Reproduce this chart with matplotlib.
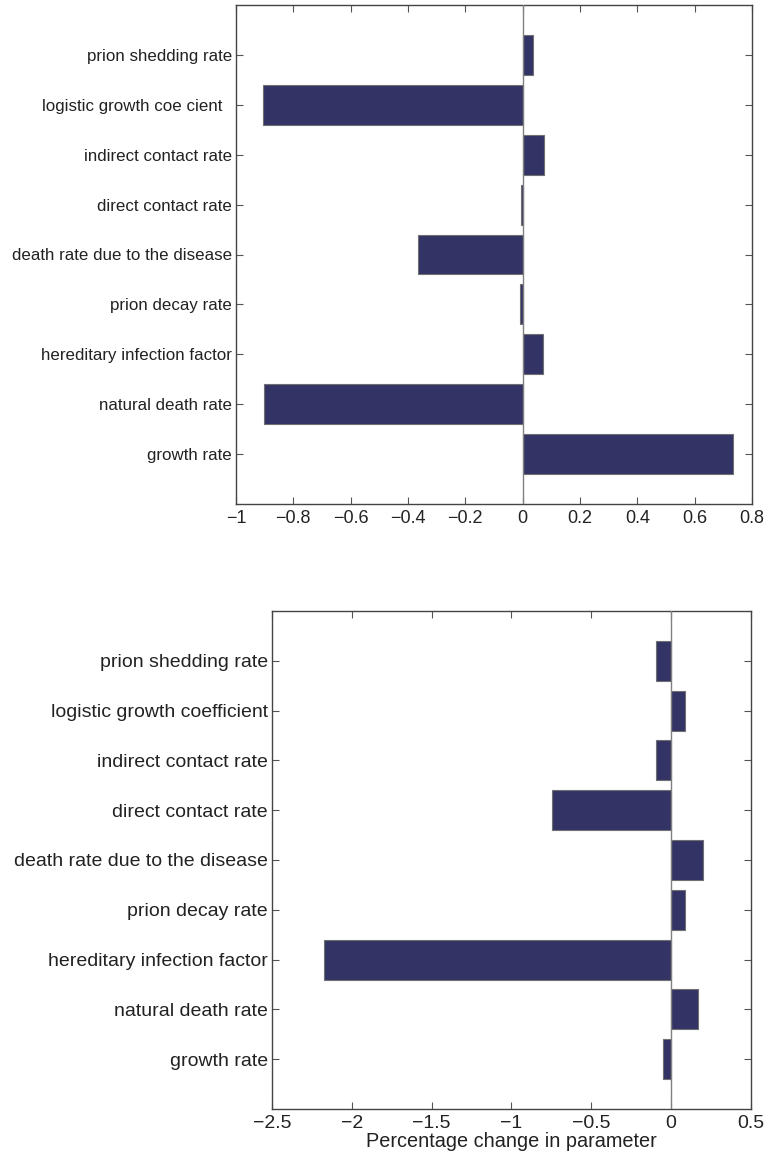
import matplotlib
matplotlib.use("Agg")
import matplotlib.pyplot as plt

# parameter names, bottom to top
params = ['growth rate', 'natural death rate', 'hereditary infection factor',
          'prion decay rate', 'death rate due to the disease', 'direct contact rate',
          'indirect contact rate', 'logistic growth coefficient', 'prion shedding rate']
params_top = params[:7] + ['logistic growth coe cient  ', 'prion shedding rate']

# sensitivity values for the two runs
top_vals = [0.733, -0.901, 0.07, -0.01, -0.364, -0.005, 0.074, -0.905, 0.036]
bottom_vals = [-0.048, 0.173, -2.171, 0.092, 0.205, -0.745, -0.09, 0.092, -0.09]

top_xticks = [-1, -0.8, -0.6, -0.4, -0.2, 0, 0.2, 0.4, 0.6, 0.8]
bottom_xticks = [-2.5, -2, -1.5, -1, -0.5, 0, 0.5]

bar_col = '#333366'
edge_col = '#707070'
txt_col = '#222222'


def tick_fmt(v):
    return ('%g' % v).replace('-', '\u2212')


def draw(ax, labels, vals, xticks, ysize, xsize):
    pos = list(range(1, len(vals) + 1))
    ax.barh(pos, vals, height=0.8, color=bar_col, edgecolor=edge_col, linewidth=0.8, zorder=2)
    ax.axvline(0, color='#808080', linewidth=1.0, zorder=3)
    ax.set_ylim(0, 10)
    ax.set_xlim(xticks[0], xticks[-1])
    ax.set_yticks(pos)
    ax.set_yticklabels(labels, family='Liberation Sans', fontsize=ysize, color=txt_col)
    ax.set_xticks(xticks)
    ax.set_xticklabels([tick_fmt(v) for v in xticks], family='Liberation Sans',
                       fontsize=xsize, color=txt_col)
    ax.tick_params(direction='in', length=5, width=0.8, color='#555555',
                   top=True, right=True, pad=4)
    ax.tick_params(axis='y', pad=3)
    for sp in ax.spines.values():
        sp.set_color('#444444')
        sp.set_linewidth(1.0)


fig = plt.figure(figsize=(7.66, 11.62), dpi=100)

ax1 = fig.add_axes([236 / 766, 1 - 504 / 1162, (752 - 236) / 766, (504 - 5) / 1162])
draw(ax1, params_top, top_vals, top_xticks, 12.2, 13)

ax2 = fig.add_axes([272 / 766, 1 - 1109 / 1162, (750.5 - 272) / 766, (1109 - 611) / 1162])
draw(ax2, params, bottom_vals, bottom_xticks, 14, 14)
ax2.set_xlabel('Percentage change in parameter', family='Liberation Sans', fontsize=14.3,
               color=txt_col, labelpad=0)

fig.savefig('out.png', dpi=100)
